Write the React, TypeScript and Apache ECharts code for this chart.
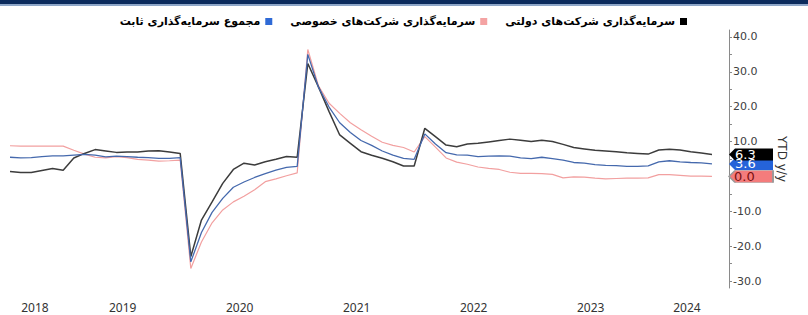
import React, { useEffect, useRef } from "react";
import * as echarts from "echarts";

// Months: Jul 2018 .. Jul 2024 (Jan merged into Feb, as in YTD data)
const years = ["2018", "2019", "2020", "2021", "2022", "2023", "2024"];
const monthsPerYear: number[][] = [
  [7, 8, 9, 10, 11, 12],
  [2, 3, 4, 5, 6, 7, 8, 9, 10, 11, 12],
  [2, 3, 4, 5, 6, 7, 8, 9, 10, 11, 12],
  [2, 3, 4, 5, 6, 7, 8, 9, 10, 11, 12],
  [2, 3, 4, 5, 6, 7, 8, 9, 10, 11, 12],
  [2, 3, 4, 5, 6, 7, 8, 9, 10, 11, 12],
  [2, 3, 4, 5, 6, 7],
];

const nameTotal = "مجموع سرمایه‌گذاری ثابت";
const namePrivate = "سرمایه‌گذاری شرکت‌های خصوصی";
const nameState = "سرمایه‌گذاری شرکت‌های دولتی";

const totalValues = [
  5.5, 5.3, 5.4, 5.7, 5.9, 5.9,
  6.1, 6.3, 6.1, 5.6, 5.8, 5.7, 5.5, 5.4, 5.2, 5.2, 5.4,
  -24.5, -16.1, -10.3, -6.3, -3.1, -1.6, -0.3, 0.8, 1.8, 2.6, 2.9,
  35.0, 25.6, 19.9, 15.4, 12.6, 10.3, 8.9, 7.3, 6.1, 5.2, 4.9,
  12.2, 9.3, 6.8, 6.2, 6.1, 5.7, 5.8, 5.9, 5.8, 5.3, 5.1,
  5.5, 5.1, 4.7, 4.0, 3.8, 3.4, 3.2, 3.1, 2.9, 2.9, 3.0,
  4.2, 4.5, 4.2, 4.0, 3.9, 3.6,
];

const privateValues = [
  8.8, 8.7, 8.7, 8.7, 8.7, 8.7,
  7.5, 6.4, 5.5, 5.3, 5.7, 5.4, 4.9, 4.7, 4.4, 4.5, 4.7,
  -26.4, -18.8, -13.3, -9.6, -7.3, -5.7, -3.8, -1.5, -0.7, 0.2, 1.0,
  36.4, 26.0, 21.0, 18.1, 15.4, 13.4, 11.5, 9.8, 8.9, 8.3, 7.0,
  11.4, 8.4, 5.3, 4.1, 3.5, 2.7, 2.3, 2.0, 1.2, 0.9, 0.9,
  0.8, 0.6, -0.4, -0.1, -0.2, -0.5, -0.7, -0.6, -0.5, -0.5, -0.4,
  0.5, 0.5, 0.3, 0.1, 0.1, 0.0,
];

const stateValues = [
  1.4, 1.1, 1.1, 1.7, 2.3, 1.8,
  5.3, 6.6, 7.7, 7.3, 6.9, 7.0, 7.0, 7.3, 7.4, 7.0, 6.6,
  -23.0, -12.5, -7.3, -2.0, 2.0, 3.8, 3.3, 4.2, 4.9, 5.7, 5.5,
  32.4, 25.7, 18.6, 11.9, 9.5, 7.1, 6.1, 5.2, 4.2, 3.0, 3.0,
  13.8, 11.4, 9.0, 8.5, 9.3, 9.5, 9.9, 10.3, 10.7, 10.4, 10.0,
  10.4, 10.0, 9.2, 8.3, 7.9, 7.5, 7.3, 7.1, 6.8, 6.6, 6.4,
  7.6, 7.8, 7.6, 7.1, 6.7, 6.3,
];

const yLabelValues = [-30, -20, -10, 0, 10, 20, 30, 40];
const yTickValues = [-30, -25, -20, -15, -10, -5, 0, 5, 10, 15, 20, 25, 30, 35, 40];

const X_MIN = 0;
const X_MAX = 67.6;
const Y_MIN = -32;
const Y_MAX = 42;

const FONT = "DejaVu Sans";

export default function App() {
  const ref = useRef<HTMLDivElement>(null);

  useEffect(() => {
    if (!ref.current) return;
    const chart = echarts.init(ref.current, undefined, { renderer: "svg" });

    // year label positions: centre of each year's span on the index axis
    const yearPos: { pos: number; label: string }[] = [];
    let idx = 0;
    monthsPerYear.forEach((ms, k) => {
      const start = Math.max(X_MIN, idx - 0.5);
      const end = k === monthsPerYear.length - 1 ? X_MAX : idx + ms.length - 0.5;
      yearPos.push({ pos: +((start + end) / 2 - 0.4).toFixed(3), label: years[k] });
      idx += ms.length;
    });

    const toPairs = (arr: number[]) => arr.map((v, i) => [i, v]);
    const last = totalValues.length - 1;

    const tagPath = "path://M0,6 L6,0 L44,0 L44,12 L6,12 Z";
    const tag = (name: string, value: number, fill: string, textColor: string, border: string) => ({
      type: "scatter",
      name,
      data: [[X_MAX, value]],
      symbol: tagPath,
      symbolSize: [44, 12],
      symbolOffset: [22, 0],
      clip: false,
      silent: true,
      z: 5,
      itemStyle: { color: fill, borderColor: border, borderWidth: border === "none" ? 0 : 1, opacity: 1 },
      label: {
        show: true,
        position: "insideLeft",
        distance: 6,
        formatter: (p: any) => p.value[1].toFixed(1),
        color: textColor,
        fontFamily: FONT,
        fontSize: 13,
      },
    });

    chart.setOption({
      animation: false,
      backgroundColor: "#ffffff",
      graphic: [
        { type: "rect", shape: { x: 0, y: 0, width: 808, height: 4 }, style: { fill: "#0b2a5c" }, silent: true },
        { type: "rect", shape: { x: 0, y: 4, width: 808, height: 2 }, style: { fill: "#8ea6c8" }, silent: true },
      ],
      legend: {
        data: [nameTotal, namePrivate, nameState],
        right: 116,
        top: 11,
        align: "right",
        icon: "rect",
        itemWidth: 7,
        itemHeight: 7,
        itemGap: 18,
        textStyle: { fontFamily: FONT, fontWeight: "bold", fontSize: 11, color: "#000" },
      },
      grid: { left: 10, right: 79, top: 30, bottom: 27 },
      xAxis: {
        type: "value",
        min: X_MIN,
        max: X_MAX,
        axisLine: { show: false },
        axisTick: { show: false },
        splitLine: { show: false },
        axisLabel: {
          customValues: yearPos.map((y) => y.pos),
          formatter: (v: number) => {
            let best = yearPos[0];
            yearPos.forEach((y) => {
              if (Math.abs(y.pos - v) < Math.abs(best.pos - v)) best = y;
            });
            return best.label;
          },
          margin: 13,
          color: "#333",
          fontFamily: "Noto Sans",
          fontSize: 12,
        },
      },
      yAxis: {
        type: "value",
        position: "right",
        min: Y_MIN,
        max: Y_MAX,
        name: "YTD y/y",
        nameLocation: "middle",
        nameRotate: -90,
        nameGap: 47,
        nameTextStyle: { fontFamily: FONT, fontSize: 12, color: "#333" },
        splitLine: { show: false },
        axisLine: { show: true, onZero: false, lineStyle: { color: "#8a8a8a", width: 1 } },
        axisTick: { show: true, customValues: yTickValues, length: 3, lineStyle: { color: "#8a8a8a" } },
        axisLabel: {
          customValues: yLabelValues,
          formatter: (v: number) => v.toFixed(1),
          margin: 4,
          color: "#404040",
          fontFamily: FONT,
          fontSize: 11,
        },
      },
      series: [
        {
          type: "line",
          name: namePrivate,
          data: toPairs(privateValues),
          showSymbol: false,
          itemStyle: { color: "#f4a3a3" },
          lineStyle: { color: "#f2a0a0", width: 1.2 },
          z: 2,
        },
        {
          type: "line",
          name: nameState,
          data: toPairs(stateValues),
          showSymbol: false,
          itemStyle: { color: "#000000" },
          lineStyle: { color: "#3c3c3c", width: 1.5 },
          z: 3,
        },
        {
          type: "line",
          name: nameTotal,
          data: toPairs(totalValues),
          showSymbol: false,
          itemStyle: { color: "#2f6ad6" },
          lineStyle: { color: "#4569ad", width: 1.3 },
          z: 4,
        },
        tag("tag-private", privateValues[last], "#f47c7c", "#7a1010", "#9a9a9a"),
        tag("tag-total", totalValues[last], "#2563d9", "#ffffff", "none"),
        tag("tag-state", stateValues[last], "#000000", "#ffffff", "none"),
      ],
    });

    return () => chart.dispose();
  }, []);

  return (
    <div
      ref={ref}
      style={{ position: "absolute", left: 0, top: 0, width: 808, height: 315 }}
    />
  );
}
